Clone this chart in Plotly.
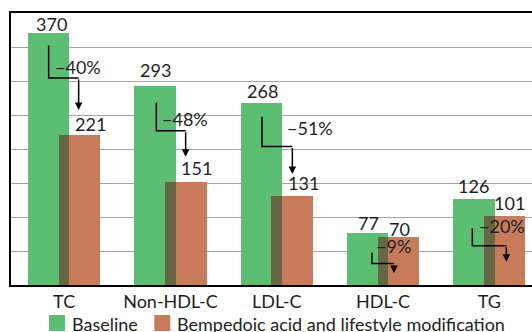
import plotly.graph_objects as go

# Lipid parameters, mg/dl
categories = ["TC", "Non-HDL-C", "LDL-C", "HDL-C", "TG"]
baseline = [370, 293, 268, 77, 126]
treated = [221, 151, 131, 70, 101]
pct_change = [-40, -48, -51, -9, -20]
series_names = ["Baseline", "Bempedoic acid and lifestyle modification"]

GREEN = "#5BBE73"
ORANGE = "#C77B5B"
OVERLAP = "#666644"
INK = "#1E1E1E"
FONT = "Lato"
FS = 18

W, H = 532, 332
ML, MT, MB = 11, 13, 47
PLOT_H = H - MT - MB
PLOT_W = W - ML
CAT_PX = 106.3                   # pixel width of one category slot
X_RANGE = [-0.5, -0.5 + PLOT_W / CAT_PX]
Y_MAX = 400
UNIT_PX = PLOT_H / Y_MAX         # pixels per mg/dl

OFF = 0.145   # bar centre offset from category centre
BW = 0.39     # bar width

idx = list(range(len(categories)))

fig = go.Figure()
fig.add_bar(x=[i - OFF for i in idx], y=baseline, width=BW,
            marker=dict(color=GREEN, line=dict(width=0)), name=series_names[0])
fig.add_bar(x=[i + OFF for i in idx], y=treated, width=BW,
            marker=dict(color=ORANGE, line=dict(width=0)), name=series_names[1])
# darker band where the two bars overlap
fig.add_bar(x=idx, y=[min(b, t) for b, t in zip(baseline, treated)],
            width=2 * (BW / 2 - OFF), marker=dict(color=OVERLAP, line=dict(width=0)),
            hoverinfo="skip")


def px2x(px):
    return px / CAT_PX


def px2y(px):
    return px / UNIT_PX


ann = []
shapes = []

# value labels: (x offset px, lift px of the text middle above bar top)
b_lbl = [(-12.5, 9), (-14.5, 16), (-14.6, 12), (-14.4, 9.5), (-15.7, 13)]
t_lbl = [(26, 11), (26.2, 14), (26.6, 13), (16.9, 8.7), (20.1, 13.5)]
for i in idx:
    dx, dy = b_lbl[i]
    ann.append(dict(x=i + px2x(dx), y=baseline[i] + px2y(dy), text=str(baseline[i])))
    dx, dy = t_lbl[i]
    ann.append(dict(x=i + px2x(dx), y=treated[i] + px2y(dy), text=str(treated[i])))

# elbow arrows: left x px, right x px, start drop px, elbow drop px (below baseline top),
# tip position px relative to treated top (positive = above)
arrows = [(-15.5, 14.5, 12, 44.6, 24.8),
          (-14.1, 15.2, 16.8, 45, 25.5),
          (-14.8, 15.6, 14, 43.8, 21.8),
          (-11.1, 10.9, 19.8, 30.8, -35.5),
          (-17, 17, 29, 46.5, -45.5)]
# percent labels: x offset px, drop px below baseline top
pct_pos = [(13.8, 33.3), (14.5, 32.8), (33.4, 25.6), (10.3, 13.8), (12.8, 26.8)]

for i in idx:
    xl, xr, s, e, tip = arrows[i]
    x1, x2 = i + px2x(xl), i + px2x(xr)
    y0 = baseline[i] - px2y(s)
    y1 = baseline[i] - px2y(e)
    y2 = treated[i] + px2y(tip)
    shapes.append(dict(type="path", xref="x", yref="y",
                       path=f"M {x1} {y0} L {x1} {y1} L {x2} {y1}",
                       line=dict(color="black", width=1.5)))
    ann.append(dict(x=x2, y=y2, ax=x2, ay=y1, axref="x", ayref="y", showarrow=True,
                    arrowhead=2, arrowsize=1, arrowwidth=1.5, arrowcolor="black",
                    standoff=0, startstandoff=0, text=""))
    dx, dy = pct_pos[i]
    ann.append(dict(x=i + px2x(dx), y=baseline[i] - px2y(dy),
                    text=f"\u2212{abs(pct_change[i])}%"))

for a in ann:
    a.setdefault("showarrow", False)
    a.setdefault("xanchor", "center")
    a.setdefault("yanchor", "middle")
    a.setdefault("font", dict(family=FONT, size=FS, color=INK))

# legend drawn in paper units
def pxx(px):
    return (px - ML) / PLOT_W


def pxy(py):
    return (H - MB - py) / PLOT_H


legend_items = [(49, GREEN, series_names[0]), (154.3, ORANGE, series_names[1])]
for x0, col, name in legend_items:
    shapes.append(dict(type="rect", xref="paper", yref="paper",
                       x0=pxx(x0), x1=pxx(x0 + 16), y0=pxy(331), y1=pxy(315),
                       fillcolor=col, line=dict(width=0)))
    ann.append(dict(xref="paper", yref="paper", x=pxx(x0 + 20.5), y=pxy(323.5),
                    text=name, showarrow=False, xanchor="left", yanchor="middle",
                    font=dict(family=FONT, size=FS, color=INK)))

fig.update_layout(
    width=W, height=H,
    margin=dict(l=ML, r=0, t=MT, b=MB, pad=0),
    paper_bgcolor="white", plot_bgcolor="white",
    barmode="overlay", bargap=0, showlegend=False,
    font=dict(family=FONT, size=FS, color=INK),
    annotations=ann, shapes=shapes,
    xaxis=dict(range=X_RANGE, tickvals=idx, ticktext=categories,
               showline=True, linecolor="black", linewidth=1.5, mirror=True,
               showgrid=False, zeroline=False, ticks="",
               tickfont=dict(family=FONT, size=FS, color=INK)),
    yaxis=dict(range=[0, Y_MAX], dtick=50, showticklabels=False,
               showline=True, linecolor="black", linewidth=1.5,
               showgrid=True, gridcolor="#A3A3A3", gridwidth=1,
               zeroline=False, ticks=""),
)

fig.write_html("out.html")
